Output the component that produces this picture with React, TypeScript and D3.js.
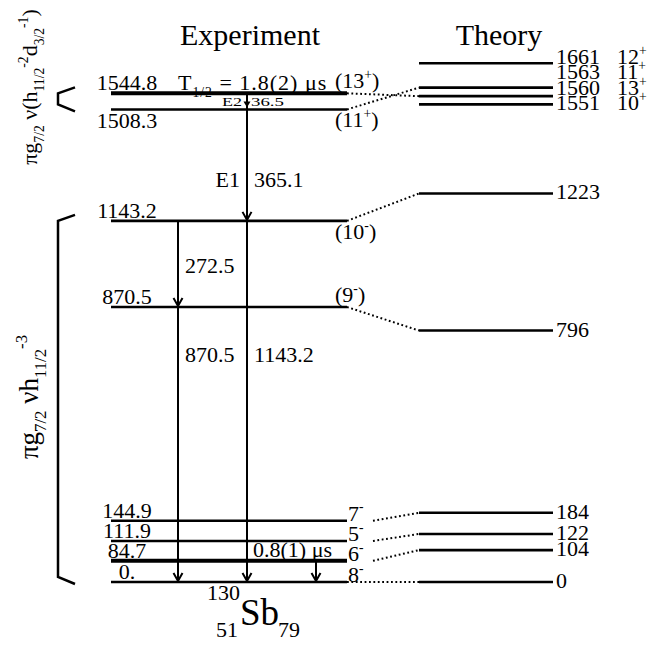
import React from 'react'
import * as d3 from 'd3'

// experimental levels of 130Sb (keV)
const expEnergies = [0, 84.7, 111.9, 144.9, 870.5, 1143.2, 1508.3, 1544.8]
const expLabels = ['0.', '84.7', '111.9', '144.9', '870.5', '1143.2', '1508.3', '1544.8']
const expSpins = ['8-', '6-', '5-', '7-', '(9-)', '(10-)', '(11+)', '(13+)']
// energy where each line is drawn (close levels are pushed apart in the figure)
const expDrawnAt = [0, 67, 130, 194, 870.5, 1143.2, 1496, 1547]
// shell model partner of each experimental level
const expPartner = [0, 104, 122, 184, 796, 1223, 1563, 1560]

// shell model levels
const thEnergies = [0, 104, 122, 184, 796, 1223, 1551, 1560, 1563, 1661]
const thSpins = ['', '', '', '', '', '', '10+', '13+', '11+', '12+']
const thDrawnAt = [0, 101, 152, 219, 796, 1230, 1512, 1538, 1565, 1642]

// gamma transitions
const gammaEnergies = ['36.5', '365.1', '272.5', '870.5', '1143.2', '84.7']
const gammaFrom = [1544.8, 1508.3, 1143.2, 870.5, 1143.2, 84.7]
const gammaTo = [1508.3, 1143.2, 870.5, 0, 0, 0]
const gammaMult = ['E2', 'E1', '', '', '', '']
const gammaLane = ['b', 'b', 'a', 'a', 'b', 'c']
const gammaLabelAt = [null, 1250, 979, 697, 697, null]

// isomers
const isomerLevels = [1544.8, 84.7]
const halfLives = ['1.8(2) μs', '0.8(1) μs']

type Part = [string, number]

const FONT = "'Liberation Serif', 'Times New Roman', Times, serif"

function Rich({ parts, size, ...rest }: any) {
    let cur = 0
    return (
        <text fontSize={size} {...rest}>
            {parts.map(([t, m]: Part, i: number) => {
                const target = m === 1 ? -0.42 * size : m === -1 ? 0.3 * size : 0
                const dy = target - cur
                cur = target
                return <tspan key={i} dy={dy} fontSize={m ? size * 0.62 : size}>{t}</tspan>
            })}
        </text>
    )
}

function spinParts(s: string): Part[] {
    const m = s.match(/^(\(?)(\d+)([+-])(\)?)$/)
    if (!m) return [[s, 0]]
    const p: Part[] = [[m[1] + m[2], 0], [m[3], 1]]
    if (m[4]) p.push([m[4], 0])
    return p
}

// push crowded labels upwards, starting from the lowest one
function pushUp(ys: number[], gap: number) {
    const out = ys.slice()
    const order = d3.range(out.length).sort((a, b) => out[b] - out[a])
    for (let k = 1; k < order.length; k++) {
        const below = out[order[k - 1]]
        if (out[order[k]] > below - gap) out[order[k]] = below - gap
    }
    return out
}

export default function App() {
    const W = 649, H = 645
    const y = d3.scaleLinear().domain([0, 1700]).range([582, 45])
    const lane = d3.scalePoint<string>().domain(['a', 'b', 'c']).range([178, 316])
    const EX0 = 111, EX1 = 347, TX0 = 419, TX1 = 553
    const spinBelow = ['(10-)', '(11+)']

    const expY = (e: number) => y(expDrawnAt[expEnergies.indexOf(e)])
    const thY = (e: number) => y(thDrawnAt[thEnergies.indexOf(e)])

    const thLabelY = pushUp(thDrawnAt.map(e => y(e) + 6), 15.5)

    const bracket = (yA: number, yB: number) =>
        d3.line()([[75, yA - 6], [58, yA], [58, yB - 5], [75, yB + 2]]) as string

    return (
        <svg width={W} height={H} style={{ position: 'absolute', left: 0, top: 0, background: '#fff', fontFamily: FONT }}
            fill="#000">
            <text x={250} y={45} fontSize={30} textAnchor="middle">Experiment</text>
            <text x={499} y={45} fontSize={30} textAnchor="middle">Theory</text>

            {/* configuration brackets */}
            <path d={bracket(expY(1544.8), expY(1508.3))} fill="none" stroke="#000" strokeWidth={2.5} />
            <path d={bracket(expY(1143.2), expY(0))} fill="none" stroke="#000" strokeWidth={2.5} />
            <Rich transform="translate(37,87) rotate(-90)" textAnchor="middle" size={22}
                parts={[['πg', 0], ['7/2', -1], [' ν(h', 0], ['11/2', -1], ['-2', 1], ['d', 0], ['3/2', -1], ['-1', 1], [')', 0]]} />
            <Rich transform="translate(38,397) rotate(-90)" textAnchor="middle" size={27}
                parts={[['πg', 0], ['7/2', -1], [' νh', 0], ['11/2', -1], ['-3', 1]]} />

            {/* dotted correspondences */}
            {expEnergies.map((e, i) => {
                const y0 = expY(e), y1 = thY(expPartner[i])
                const tentative = expSpins[i].startsWith('(')
                const x0 = tentative || Math.abs(y1 - y0) < 3 ? EX1 : 373
                return <line key={'c' + i} x1={x0} y1={y0} x2={TX0} y2={y1}
                    stroke="#000" strokeWidth={2} strokeDasharray="1.8 2.6" />
            })}

            {/* experimental levels */}
            {expEnergies.map((e, i) => {
                const yy = y(expDrawnAt[i])
                const isomer = isomerLevels.includes(e)
                const above = i < expEnergies.length - 1 ? yy - y(expDrawnAt[i + 1]) : 99
                const tentative = expSpins[i].startsWith('(')
                let sy = yy
                if (tentative) sy = spinBelow.includes(expSpins[i]) ? yy + 18 : yy - 5
                return (
                    <g key={'e' + i}>
                        <line x1={EX0} x2={EX1} y1={yy} y2={yy} stroke="#000" strokeWidth={isomer ? 4 : 2.6} />
                        <text x={127} y={above < 18 ? yy + 19 : yy - 3} fontSize={22} textAnchor="middle">{expLabels[i]}</text>
                        <Rich x={tentative ? 335 : 348} y={sy} size={22} parts={spinParts(expSpins[i])} />
                    </g>
                )
            })}

            {/* theory levels */}
            {thEnergies.map((e, i) => {
                const yy = y(thDrawnAt[i])
                return (
                    <g key={'t' + i}>
                        <line x1={TX0} x2={TX1} y1={yy} y2={yy} stroke="#000" strokeWidth={2.6} />
                        <text x={556} y={thLabelY[i]} fontSize={22}>{e}</text>
                        {thSpins[i] && <Rich x={617} y={thLabelY[i]} size={22} parts={spinParts(thSpins[i])} />}
                    </g>
                )
            })}

            {/* gamma rays */}
            {gammaEnergies.map((g, i) => {
                const x = lane(gammaLane[i]) as number
                const y0 = expY(gammaFrom[i]), y1 = expY(gammaTo[i])
                if (y1 - y0 < 18) {
                    const m = (y0 + y1) / 2
                    return (
                        <g key={'g' + i}>
                            <line x1={x} x2={x} y1={y0} y2={y1} stroke="#000" strokeWidth={2} />
                            <path d={`M${x - 3.5},${m} L${x + 3.5},${m} L${x},${m + 6} Z`} fill="#000" />
                            <text x={x - 5} y={m + 5} fontSize={13} textAnchor="end" textLength={20} lengthAdjust="spacingAndGlyphs">{gammaMult[i]}</text>
                            <text x={x + 4} y={m + 5} fontSize={13} textLength={33} lengthAdjust="spacingAndGlyphs">{g}</text>
                        </g>
                    )
                }
                const la = gammaLabelAt[i]
                return (
                    <g key={'g' + i}>
                        <line x1={x} x2={x} y1={y0} y2={y1} stroke="#000" strokeWidth={2} />
                        <path d={`M${x - 4.5},${y1 - 9} L${x},${y1 - 1} L${x + 4.5},${y1 - 9}`} fill="none" stroke="#000" strokeWidth={2} />
                        {la !== null && <text x={x + 7} y={y(la)} fontSize={22}>{g}</text>}
                        {la !== null && gammaMult[i] && <text x={x - 7} y={y(la)} fontSize={22} textAnchor="end">{gammaMult[i]}</text>}
                    </g>
                )
            })}

            {/* half-lives */}
            <Rich x={lane('a')} y={expY(isomerLevels[0]) - 3} size={22} letterSpacing={1}
                parts={[['T', 0], ['1/2', -1], [' = ' + halfLives[0], 0]]} />
            <text x={(lane('b') as number) + 6} y={expY(isomerLevels[1]) - 4} fontSize={22}>{halfLives[1]}</text>

            {/* nucleus */}
            <text x={240} y={600} fontSize={22} textAnchor="end">130</text>
            <text x={238} y={637} fontSize={22} textAnchor="end">51</text>
            <text x={240} y={625} fontSize={37}>Sb</text>
            <text x={278} y={637} fontSize={22}>79</text>
        </svg>
    )
}
